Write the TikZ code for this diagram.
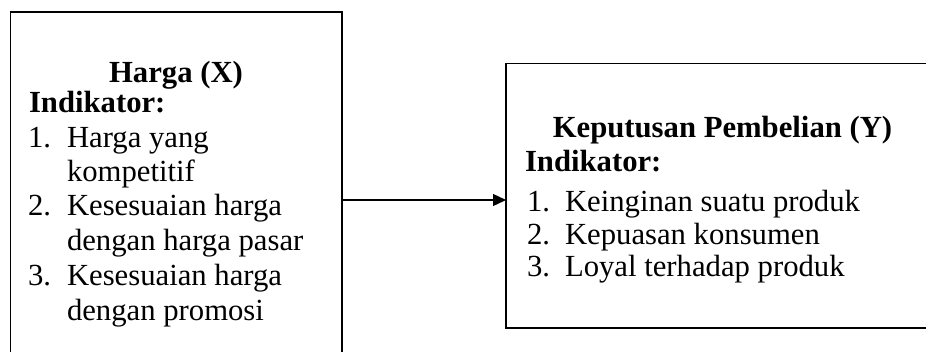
\documentclass[tikz,border=0pt]{standalone}
\usepackage{fontspec}
\setmainfont{Liberation Serif}
\usetikzlibrary{arrows.meta}
\begin{document}
\begin{tikzpicture}[x=1pt,y=-1pt,
  box/.style={draw=black,line width=1.6pt,inner sep=0pt,outer sep=0pt,anchor=north west},
  txt/.style={inner sep=0pt,outer sep=0pt,anchor=base west,font=\fontsize{30.7}{36}\selectfont},
  head/.style={inner sep=0pt,outer sep=0pt,anchor=base,font=\fontsize{30.7}{36}\selectfont\bfseries},
  bhead/.style={txt,font=\fontsize{30.7}{36}\selectfont\bfseries},
  link/.style={draw=black,line width=1.3pt,-{Triangle[length=13pt,width=12pt]}}]
\clip (0,0) rectangle (926,351);
\fill[white] (0,0) rectangle (926,351);
% boxes
\node[box,minimum width=331.5pt,minimum height=360pt] (hx) at (10.5,12) {};
\node[box,minimum width=433pt,minimum height=264.5pt] (ky) at (506,63.5) {};
% left texts
\node[head] (hxt) at (176,82) {Harga (X)};
\node[bhead] (hxi) at (29,112) {Indikator:};
\node[txt] (hn1) at (28,147) {1.};
\node[txt] (hl1) at (67,147) {Harga yang};
\node[txt] (hl1b) at (67,181) {kompetitif};
\node[txt] (hn2) at (28,215) {2.};
\node[txt] (hl2) at (67,215) {Kesesuaian harga};
\node[txt] (hl2b) at (67,250) {dengan harga pasar};
\node[txt] (hn3) at (28,285) {3.};
\node[txt] (hl3) at (67,285) {Kesesuaian harga};
\node[txt] (hl3b) at (67,320) {dengan promosi};
% right texts
\node[head] (kyt) at (722.5,137) {Keputusan Pembelian (Y)};
\node[bhead] (kyi) at (525,171) {Indikator:};
\node[txt] (kn1) at (527,211) {1.};
\node[txt] (kl1) at (565,211) {Keinginan suatu produk};
\node[txt] (kn2) at (527,244) {2.};
\node[txt] (kl2) at (565,244) {Kepuasan konsumen};
\node[txt] (kn3) at (527,276) {3.};
\node[txt] (kl3) at (565,276) {Loyal terhadap produk};
% connector
\coordinate (ar) at (0,200);
\draw[link] (hx.east |- ar) -- (ky.west |- ar);
\end{tikzpicture}
\end{document}
